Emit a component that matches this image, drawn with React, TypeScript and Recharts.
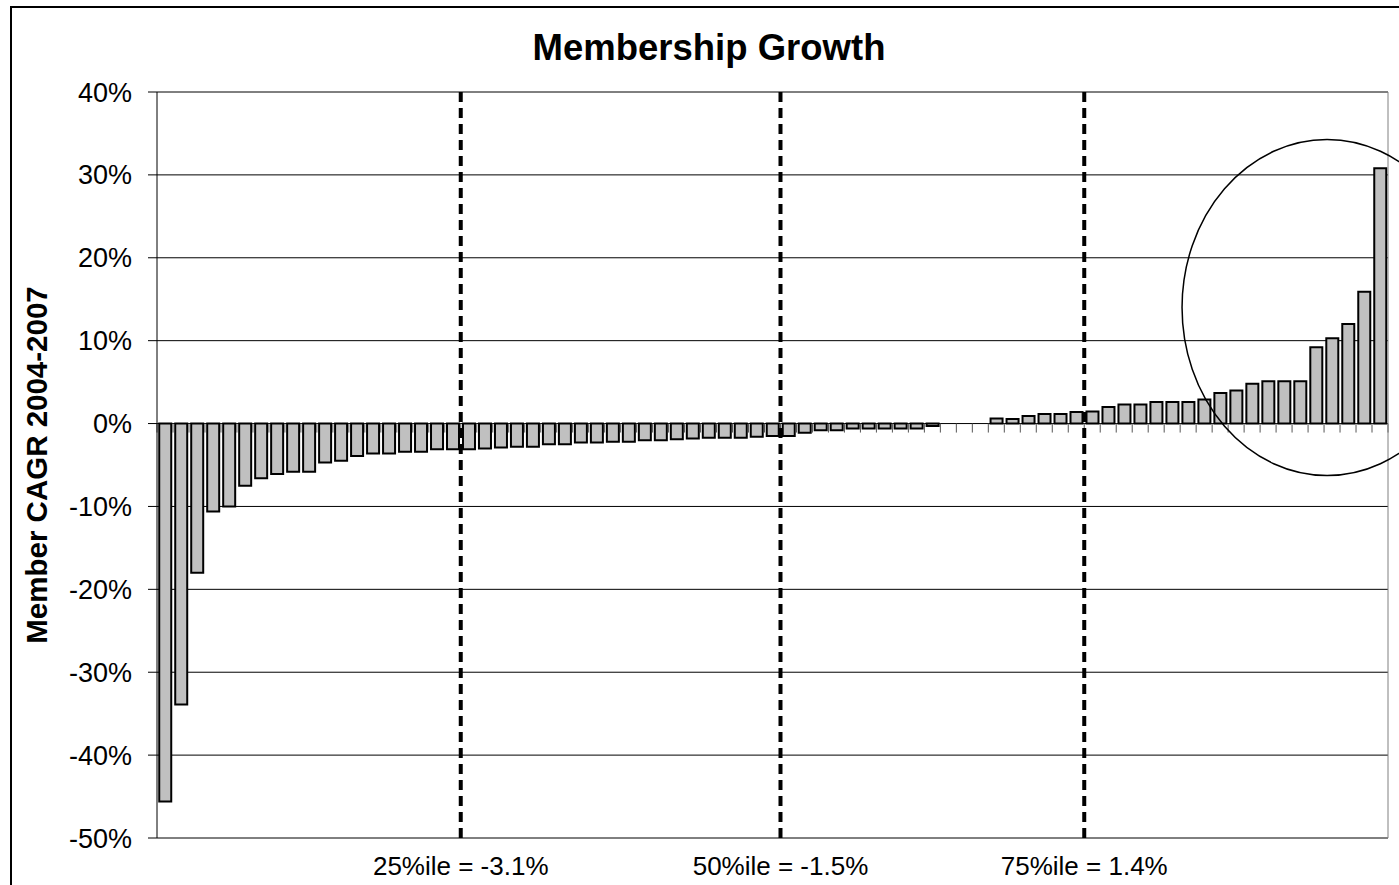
import React from 'react'
import {
  ComposedChart,
  Bar,
  XAxis,
  YAxis,
  CartesianGrid,
  ReferenceLine,
  ReferenceDot,
} from 'recharts'

const FONT = '"Liberation Sans", Arial, Helvetica, sans-serif'

// member CAGR 2004-2007, in %, sorted ascending (one bar per member)
const growth = [
  -45.6, -33.9, -18.0, -10.6, -10.0, -7.5, -6.6, -6.1, -5.8, -5.8,
  -4.7, -4.5, -3.9, -3.6, -3.6, -3.4, -3.4, -3.1, -3.1, -3.1,
  -3.0, -2.9, -2.8, -2.8, -2.5, -2.5, -2.3, -2.3, -2.2, -2.2,
  -2.0, -2.0, -1.9, -1.8, -1.7, -1.7, -1.7, -1.6, -1.5, -1.5,
  -1.1, -0.8, -0.8, -0.6, -0.6, -0.6, -0.6, -0.6, -0.3, 0,
  0, 0, 0.6, 0.55, 0.9, 1.15, 1.15, 1.4, 1.45, 2.0,
  2.3, 2.3, 2.6, 2.6, 2.6, 2.9, 3.7, 4.0, 4.8, 5.1,
  5.1, 5.1, 9.2, 10.3, 12.0, 15.9, 30.8,
]
const members = growth.map((_, i) => `Member ${i + 1}`)

const yTicks = [-50, -40, -30, -20, -10, 0, 10, 20, 30, 40]

// percentile markers: drawn after the n-th member, with their label text
const percentileAfter = [19, 39, 58]
const percentileLabels = ['25%ile = -3.1%', '50%ile = -1.5%', '75%ile = 1.4%']

// the hand-drawn circle around the fastest growers
const highlightMember = 74
const highlightValue = 14

const data = members.map((m, i) => ({ member: m, cagr: growth[i] }))

const ZeroTick = (props: any) => (
  <line x1={props.x1} y1={props.y1} x2={props.x1} y2={props.y1 + 9} stroke="#555" strokeWidth={1} />
)

const Highlight = (props: any) => (
  <ellipse cx={props.cx - 5} cy={props.cy} rx={145} ry={168} fill="none" stroke="#000" strokeWidth={1.5} />
)

const YLabel = (props: any) => {
  const vb = props.viewBox ?? { x: 0, y: 92, width: 157, height: 746 }
  const cx = vb.x + 36
  const cy = vb.y + vb.height / 2
  return (
    <text
      x={cx}
      y={cy}
      transform={`rotate(-90, ${cx}, ${cy})`}
      textAnchor="middle"
      dominantBaseline="central"
      fontFamily={FONT}
      fontWeight="bold"
      fontSize={29.5}
      fill="#000"
    >
      Member CAGR 2004-2007
    </text>
  )
}

export default function App() {
  const last = members[members.length - 1]
  return (
    <div
      style={{
        position: 'absolute',
        left: 0,
        top: 0,
        width: 1399,
        height: 885,
        overflow: 'hidden',
        background: '#fff',
        fontFamily: FONT,
      }}
    >
      <div
        style={{
          position: 'absolute',
          left: 10,
          top: 6,
          width: 1420,
          height: 920,
          borderLeft: '2px solid #000',
          borderTop: '2px solid #000',
        }}
      />
      <div
        style={{
          position: 'absolute',
          left: 10,
          width: 1398,
          top: 30,
          textAlign: 'center',
          fontSize: 36.5,
          lineHeight: '36px',
          fontWeight: 'bold',
          color: '#000',
        }}
      >
        Membership Growth
      </div>
      <ComposedChart
        width={1399}
        height={885}
        data={data}
        margin={{ top: 92, right: 11, bottom: 47, left: 0 }}
        barCategoryGap="14%"
        style={{ position: 'absolute', left: 0, top: 0 }}
      >
        <CartesianGrid stroke="#000" vertical={false} />
        <XAxis dataKey="member" hide />
        <YAxis
          width={157}
          domain={[-50, 40]}
          ticks={yTicks}
          interval={0}
          tickFormatter={(v) => `${v}%`}
          tick={{ fill: '#000', fontSize: 27, fontFamily: FONT }}
          tickSize={9}
          tickMargin={16}
          axisLine={{ stroke: '#000' }}
          tickLine={{ stroke: '#000' }}
          label={{ content: YLabel }}
        />
        <Bar
          dataKey="cagr"
          fill="#c0c0c0"
          stroke="#000"
          strokeWidth={2}
          isAnimationActive={false}
        />
        {members.map((m) => (
          <ReferenceLine
            key={`t${m}`}
            position="start"
            segment={[
              { x: m, y: 0 },
              { x: m, y: 0 },
            ]}
            shape={ZeroTick}
          />
        ))}
        <ReferenceLine
          position="end"
          segment={[
            { x: last, y: 0 },
            { x: last, y: 0 },
          ]}
          shape={ZeroTick}
        />
        <ReferenceLine x={last} position="end" stroke="#808080" />
        {percentileAfter.map((n, i) => (
          <ReferenceLine
            key={`p${i}`}
            x={members[n - 1]}
            position="end"
            stroke="#000"
            strokeWidth={4}
            strokeDasharray="10 6"
            label={{
              value: percentileLabels[i],
              position: 'bottom',
              offset: 19,
              fill: '#000',
              fontSize: 26,
              fontFamily: FONT,
            }}
          />
        ))}
        <ReferenceDot
          x={members[highlightMember - 1]}
          y={highlightValue}
          r={1}
          ifOverflow="visible"
          shape={Highlight}
        />
      </ComposedChart>
    </div>
  )
}
